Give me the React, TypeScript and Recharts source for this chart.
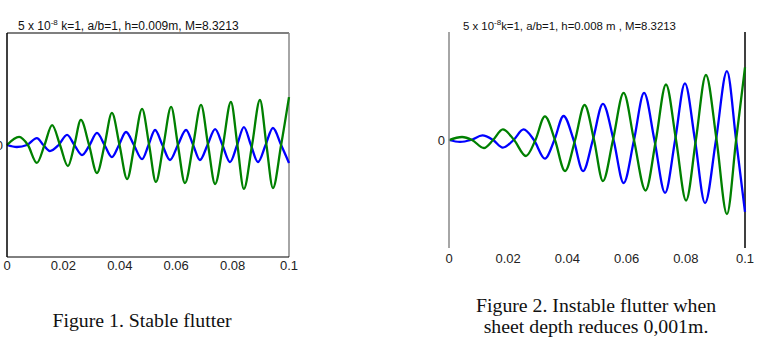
import { LineChart, Line, XAxis, YAxis, ReferenceLine } from 'recharts'

// Figure 1 (h=0.009m), values in units of 1e-8
const fig1GreenT = [0, 0.0043, 0.0074, 0.0106, 0.0133, 0.016, 0.0188, 0.0216, 0.0239, 0.0262, 0.0291, 0.0319, 0.0346, 0.0372, 0.0399, 0.0426, 0.0452, 0.0479, 0.0504, 0.0528, 0.0555, 0.0582, 0.0606, 0.0631, 0.066, 0.0688, 0.0713, 0.0738, 0.0766, 0.0794, 0.0817, 0.084, 0.0869, 0.0897, 0.092, 0.0943, 0.0972, 0.1]
const fig1GreenY = [0, 0.36, 0, -0.8, 0, 0.89, 0, -0.94, 0, 1.12, 0, -1.25, 0, 1.43, 0, -1.52, 0, 1.61, 0, -1.65, 0, 1.7, 0, -1.7, 0, 1.79, 0, -1.74, 0, 1.92, 0, -1.96, 0, 2.01, 0, -1.92, 0, 2.14]
const fig1BlueT = [0, 0.0035, 0.0071, 0.0106, 0.0129, 0.0152, 0.0183, 0.0213, 0.0239, 0.0266, 0.0293, 0.0319, 0.0346, 0.0372, 0.0397, 0.0422, 0.045, 0.0479, 0.0502, 0.0525, 0.0551, 0.0578, 0.0606, 0.0635, 0.066, 0.0684, 0.0711, 0.0738, 0.0764, 0.0791, 0.0816, 0.084, 0.0865, 0.089, 0.0917, 0.0943, 0.0972, 0.1]
const fig1BlueY = [0, -0.09, 0, 0.31, 0, -0.27, 0, 0.45, 0, -0.45, 0, 0.54, 0, -0.54, 0, 0.58, 0, -0.63, 0, 0.67, 0, -0.67, 0, 0.67, 0, -0.67, 0, 0.71, 0, -0.76, 0, 0.8, 0, -0.76, 0, 0.76, 0, -0.8]

// Figure 2 (h=0.008m)
const fig2GreenT = [0, 0.0044, 0.0078, 0.0118, 0.0149, 0.0182, 0.022, 0.026, 0.0292, 0.0324, 0.0358, 0.0392, 0.0426, 0.0458, 0.049, 0.052, 0.0554, 0.059, 0.0625, 0.0664, 0.0699, 0.0733, 0.0767, 0.0801, 0.0834, 0.0868, 0.0904, 0.0939, 0.097, 0.1]
const fig2GreenY = [0, 0.14, 0, -0.37, 0, 0.49, 0, -0.74, 0, 1.09, 0, -1.44, 0, 1.62, 0, -1.9, 0, 2.18, 0, -2.34, 0, 2.57, 0, -2.8, 0, 3.01, 0, -3.43, 0, 3.36]
const fig2BlueT = [0, 0.0037, 0.0074, 0.0113, 0.0149, 0.0182, 0.0218, 0.0252, 0.0287, 0.0324, 0.0356, 0.0387, 0.0421, 0.0453, 0.0486, 0.052, 0.0556, 0.059, 0.0625, 0.0659, 0.0694, 0.073, 0.0764, 0.0797, 0.0831, 0.0865, 0.0902, 0.0939, 0.097, 0.1]
const fig2BlueY = [0, -0.09, 0, 0.21, 0, -0.35, 0, 0.49, 0, -0.86, 0, 1.11, 0, -1.44, 0, 1.67, 0, -1.99, 0, 2.18, 0, -2.45, 0, 2.62, 0, -2.92, 0, 3.19, 0, -3.33]

const xTicks = [0, 0.02, 0.04, 0.06, 0.08, 0.1]
const yTicks = [0]
const yDomain = [-5, 5]

const zip = (t: number[], y: number[]) => t.map((x, i) => ({ x, y: y[i] }))

const tickStyle = { fontSize: 13, fill: '#222', fontFamily: 'Liberation Sans, Arial, sans-serif' }

type PlotProps = {
  left: number
  width: number
  height: number
  margin: { top: number; right: number; bottom: number; left: number }
  yAxisWidth: number
  xTickMargin: number
  blue: { x: number; y: number }[]
  green: { x: number; y: number }[]
  leftColor: string
  rightColor: string
  boxed: boolean
}

function FlutterPlot(p: PlotProps) {
  return (
    <div style={{ position: 'absolute', left: p.left, top: 0 }}>
      <LineChart width={p.width} height={p.height} margin={p.margin}>
        <XAxis
          xAxisId="b"
          type="number"
          dataKey="x"
          domain={[0, 0.1]}
          ticks={xTicks}
          tickFormatter={(v: number) => String(v)}
          tickLine={false}
          tickSize={0}
          tickMargin={p.xTickMargin}
          axisLine={p.boxed ? { stroke: '#000', strokeWidth: 1 } : false}
          tick={tickStyle}
          height={20}
          interval={0}
        />
        <YAxis
          yAxisId="l"
          type="number"
          domain={yDomain}
          ticks={yTicks}
          width={p.yAxisWidth}
          tickLine={false}
          tickSize={0}
          tickMargin={4}
          axisLine={{ stroke: p.leftColor, strokeWidth: 1.5 }}
          tick={tickStyle}
        />
        {p.boxed && (
          <ReferenceLine xAxisId="b" yAxisId="l" y={5} stroke="#000" strokeWidth={1.2} ifOverflow="extendDomain" />
        )}
        <ReferenceLine xAxisId="b" yAxisId="l" x={0.1} stroke={p.rightColor} strokeWidth={1.5} ifOverflow="extendDomain" />
        <Line
          xAxisId="b"
          yAxisId="l"
          data={p.blue}
          dataKey="y"
          type="monotone"
          stroke="#0000ff"
          strokeWidth={2.3}
          dot={false}
          activeDot={false}
          isAnimationActive={false}
        />
        <Line
          xAxisId="b"
          yAxisId="l"
          data={p.green}
          dataKey="y"
          type="monotone"
          stroke="#008000"
          strokeWidth={2.3}
          dot={false}
          activeDot={false}
          isAnimationActive={false}
        />
      </LineChart>
    </div>
  )
}

const titleStyle: React.CSSProperties = {
  position: 'absolute',
  top: 16,
  lineHeight: '13px',
  fontFamily: 'Liberation Sans, Arial, sans-serif',
  color: '#111',
  whiteSpace: 'nowrap',
}

const captionStyle: React.CSSProperties = {
  position: 'absolute',
  fontSize: 19.8,
  lineHeight: '21px',
  fontFamily: 'Liberation Serif, Times New Roman, serif',
  color: '#111',
  textAlign: 'center',
  whiteSpace: 'nowrap',
}

export default function App() {
  return (
    <div style={{ position: 'absolute', left: 0, top: 0, width: 759, height: 344, background: '#fff', overflow: 'hidden' }}>
      <div style={{ ...titleStyle, left: 18, fontSize: 12 }}>
        5 x 10<sup style={{ fontSize: 8, verticalAlign: '5px' }}>-8</sup> k=1, a/b=1, h=0.009m, M=8.3213
      </div>
      <div style={{ ...titleStyle, left: 463, fontSize: 11.4 }}>
        5 x 10<sup style={{ fontSize: 8, verticalAlign: '5px' }}>-8</sup>k=1, a/b=1, h=0.008 m , M=8.3213
      </div>
      <FlutterPlot
        left={0}
        width={300}
        height={290}
        margin={{ top: 33, right: 11, bottom: 13, left: 0 }}
        yAxisWidth={7}
        xTickMargin={4}
        blue={zip(fig1BlueT, fig1BlueY)}
        green={zip(fig1GreenT, fig1GreenY)}
        leftColor="#000"
        rightColor="#888"
        boxed={true}
      />
      <FlutterPlot
        left={430}
        width={329}
        height={290}
        margin={{ top: 32, right: 14, bottom: 22, left: 0 }}
        yAxisWidth={19}
        xTickMargin={6}
        blue={zip(fig2BlueT, fig2BlueY)}
        green={zip(fig2GreenT, fig2GreenY)}
        leftColor="#888"
        rightColor="#000"
        boxed={false}
      />
      <div style={{ ...captionStyle, left: 42, width: 200, top: 310 }}>Figure 1. Stable flutter</div>
      <div style={{ ...captionStyle, left: 476, width: 240, top: 295 }}>
        Figure 2. Instable flutter when
        <br />
        sheet depth reduces 0,001m.
      </div>
    </div>
  )
}
